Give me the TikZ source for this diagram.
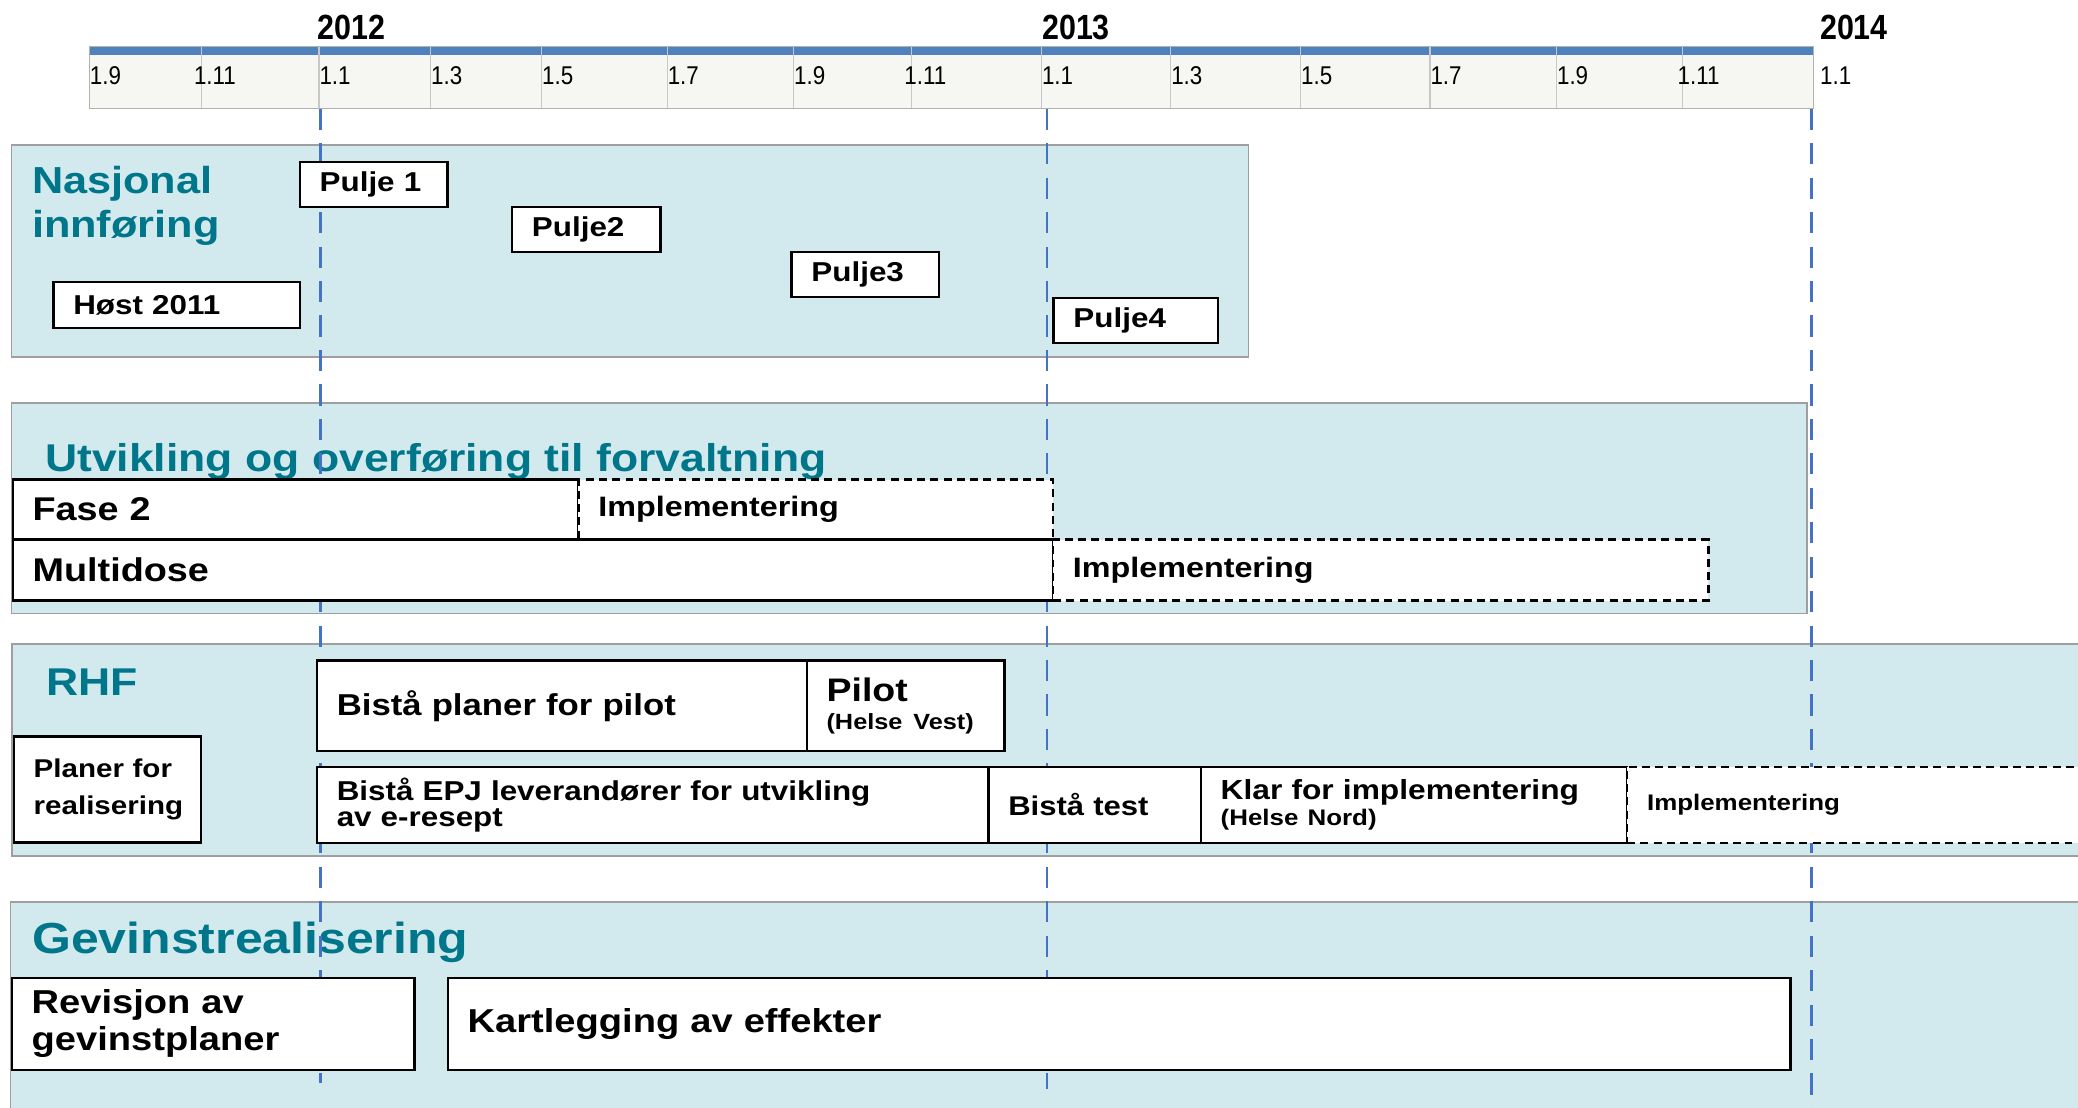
\documentclass[tikz,border=0pt]{standalone}
\usepackage{fontspec}
\setmainfont{Liberation Sans}
\newfontfamily\axisfont{Liberation Sans}[FakeStretch=0.87]
\newfontfamily\panelfont{Liberation Sans}[FakeStretch=1.15]
\usepackage{tikz}
\usepackage{xcolor}
\definecolor{tlblue}{RGB}{79,129,189}
\definecolor{tlgray}{RGB}{246,247,242}
\definecolor{tlline}{RGB}{200,200,200}
\definecolor{panelfill}{RGB}{210,233,237}
\definecolor{titleteal}{RGB}{0,118,138}
\definecolor{yearblue}{RGB}{68,114,196}
\tikzstyle{panel} = [draw=gray!75, line width=0.6pt, fill=panelfill]
\tikzstyle{title} = [inner sep=0pt, text=titleteal]
\tikzstyle{task} = [draw=black, fill=white, line width=0.9pt, anchor=north west, inner xsep=7.5pt, inner ysep=0pt, align=left]
\tikzstyle{plan} = [task, dash pattern=on 3pt off 2pt]
\tikzstyle{yearline} = [color=yearblue, line width=1.1pt, dash pattern=on 8pt off 5pt]
\tikzstyle{month} = [anchor=base west, inner sep=0pt, font=\axisfont\fontsize{9.7}{11}\selectfont]
\tikzstyle{year} = [anchor=base west, inner sep=0pt, font=\axisfont\bfseries\fontsize{13.2}{15}\selectfont]
\tikzset{boxdim/.code 2 args={%
    \pgfmathsetmacro\boxw{#1/2}%
    \pgfmathsetmacro\boxh{#2/2}%
    \pgfmathsetmacro\boxt{#1/2-15}%
    \pgfkeysalso{minimum width=\boxw pt, minimum height=\boxh pt, text width=\boxt pt}}}

\begin{document}
\begin{tikzpicture}[x=0.5pt, y=-0.5pt]
    \useasboundingbox (0,0) rectangle (1568,836);
    \clip (0,0) rectangle (1568,836);

    % Time axis
    \fill[tlgray] (67.4,41.5) rectangle (1368.5,82);
    \fill[tlblue] (67.4,35) rectangle (1368.5,41.5);
    \draw[tlline, line width=0.4pt] (152.1,35) -- (152.1,82) (240.7,35) -- (240.7,82)
        (324.9,35) -- (324.9,82) (408.7,35) -- (408.7,82) (503.5,35) -- (503.5,82)
        (598.8,35) -- (598.8,82) (687.8,35) -- (687.8,82) (785.9,35) -- (785.9,82)
        (883.4,35) -- (883.4,82) (981.4,35) -- (981.4,82) (1079,35) -- (1079,82)
        (1174.5,35) -- (1174.5,82) (1269.4,35) -- (1269.4,82);
    \draw[gray!60, line width=0.6pt] (67.4,35) rectangle (1368.5,82);

    % Years
    \node[year] (y2012) at (239,30) {2012};
    \node[year] (y2013) at (786,30) {2013};
    \node[year] (y2014) at (1373,30) {2014};

    % Months
    \node[month] (m1) at (67.4,64) {1.9};
    \node[month] (m2) at (146,64) {1.11};
    \node[month] (m3) at (240.7,64) {1.1};
    \node[month] (m4) at (324.9,64) {1.3};
    \node[month] (m5) at (408.7,64) {1.5};
    \node[month] (m6) at (503.5,64) {1.7};
    \node[month] (m7) at (598.8,64) {1.9};
    \node[month] (m8) at (682,64) {1.11};
    \node[month] (m9) at (785.9,64) {1.1};
    \node[month] (m10) at (883.4,64) {1.3};
    \node[month] (m11) at (981.4,64) {1.5};
    \node[month] (m12) at (1079,64) {1.7};
    \node[month] (m13) at (1174.5,64) {1.9};
    \node[month] (m14) at (1265.5,64) {1.11};
    \node[month] (m15) at (1373,64) {1.1};

    % Panels
    \draw[panel] (8.8,109.4) rectangle (942,269.2);
    \draw[panel] (8.7,303.9) rectangle (1363.4,462.9);
    \draw[panel] (9,486) rectangle (1590,646);
    \draw[panel] (8,680.5) rectangle (1590,850);

    % Panel titles
    \node[title, anchor=north west, align=left, font=\panelfont\bfseries\fontsize{14.2}{16.6}\selectfont] (nasjonal) at (23.8,125.2) {Nasjonal\\innføring};
    \node[title, anchor=base west, font=\panelfont\bfseries\fontsize{14.6}{17}\selectfont] (utvikling) at (33.7,356) {Utvikling og overføring til forvaltning};
    \node[title, anchor=base west, font=\panelfont\bfseries\fontsize{14.6}{17}\selectfont] (rhf) at (34.4,524.5) {RHF};
    \node[title, anchor=base west, font=\panelfont\bfseries\fontsize{16.4}{19}\selectfont] (gevinst) at (23.9,719.5) {Gevinstrealisering};

    % Year lines
    \coordinate (l2012a) at (242,82);
    \coordinate (l2012b) at (242,817.5);
    \coordinate (l2013a) at (790,82);
    \coordinate (l2013b) at (790,822);
    \coordinate (l2014a) at (1367,82);
    \coordinate (l2014b) at (1367,836);
    \draw[yearline] (l2012a) -- (l2012b);
    \draw[yearline] (l2013a) -- (l2013b);
    \draw[yearline] (l2014a) -- (l2014b);

    % Nasjonal innforing
    \node[task, boxdim={111.4}{34.2}, font=\panelfont\bfseries\fontsize{10.3}{12}\selectfont] (pulje1) at (225.3,121.3) {Pulje 1};
    \node[task, boxdim={112}{33.9}, font=\panelfont\bfseries\fontsize{10.3}{12}\selectfont] (pulje2) at (385.5,155.5) {Pulje2};
    \node[task, boxdim={111.4}{34}, font=\panelfont\bfseries\fontsize{10.3}{12}\selectfont] (pulje3) at (596.4,189.4) {Pulje3};
    \node[task, boxdim={124}{34.2}, font=\panelfont\bfseries\fontsize{10.3}{12}\selectfont] (pulje4) at (794.1,223.9) {Pulje4};
    \node[task, boxdim={185.9}{34.5}, font=\panelfont\bfseries\fontsize{10.3}{12}\selectfont] (host) at (39.4,212.1) {Høst 2011};

    % Utvikling
    \node[task, boxdim={426.9}{45.3}, font=\panelfont\bfseries\fontsize{12.4}{14}\selectfont] (fase) at (8.7,361) {Fase 2};
    \node[plan, boxdim={358.1}{45.3}, font=\panelfont\bfseries\fontsize{10.6}{12}\selectfont] (impl1) at (435.6,361) {Implementering};
    \node[task, boxdim={785}{46}, font=\panelfont\bfseries\fontsize{12.4}{14}\selectfont] (multidose) at (8.7,406.3) {Multidose};
    \node[plan, boxdim={494.5}{46}, font=\panelfont\bfseries\fontsize{10.6}{12}\selectfont] (impl2) at (793.7,406.3) {Implementering};

    % RHF
    \node[task, boxdim={141.4}{80}, font=\panelfont\bfseries\fontsize{9.7}{13.85}\selectfont] (planer) at (9.5,554.7) {Planer for\\realisering};
    \node[task, boxdim={369.6}{68.4}, font=\panelfont\bfseries\fontsize{11.4}{13}\selectfont] (bplaner) at (238.2,497.6) {Bistå planer for pilot};
    \node[task, boxdim={149.3}{68.4}, font=\panelfont\bfseries\fontsize{12.3}{10.75}\selectfont] (pilot) at (607.8,497.6) {Pilot\\{\fontsize{8.3}{10}\selectfont (Helse Vest)}};
    \node[task, boxdim={506.7}{57.1}, font=\panelfont\bfseries\fontsize{10.3}{10}\selectfont] (bepj) at (238.2,577.9) {Bistå EPJ leverandører for utvikling\\av e-resept};
    \node[task, boxdim={160.3}{57.1}, font=\panelfont\bfseries\fontsize{10.2}{12}\selectfont] (btest) at (744.9,577.9) {Bistå test};
    \node[task, boxdim={321.7}{57.1}, font=\panelfont\bfseries\fontsize{10.4}{10}\selectfont] (klar) at (905.2,577.9) {Klar for implementering\\{\fontsize{8.5}{10}\selectfont (Helse Nord)}};
    \node[plan, boxdim={380}{57.1}, font=\panelfont\bfseries\fontsize{8.5}{10}\selectfont] (impl3) at (1226.9,577.9) {Implementering};

    % Gevinstrealisering
    \node[task, boxdim={304}{69.3}, font=\panelfont\bfseries\fontsize{12.5}{13.85}\selectfont] (revisjon) at (8,737) {Revisjon av\\gevinstplaner};
    \node[task, boxdim={1013}{69.3}, font=\panelfont\bfseries\fontsize{12.5}{14}\selectfont] (kartlegging) at (337,737) {Kartlegging av effekter};
\end{tikzpicture}
\end{document}
